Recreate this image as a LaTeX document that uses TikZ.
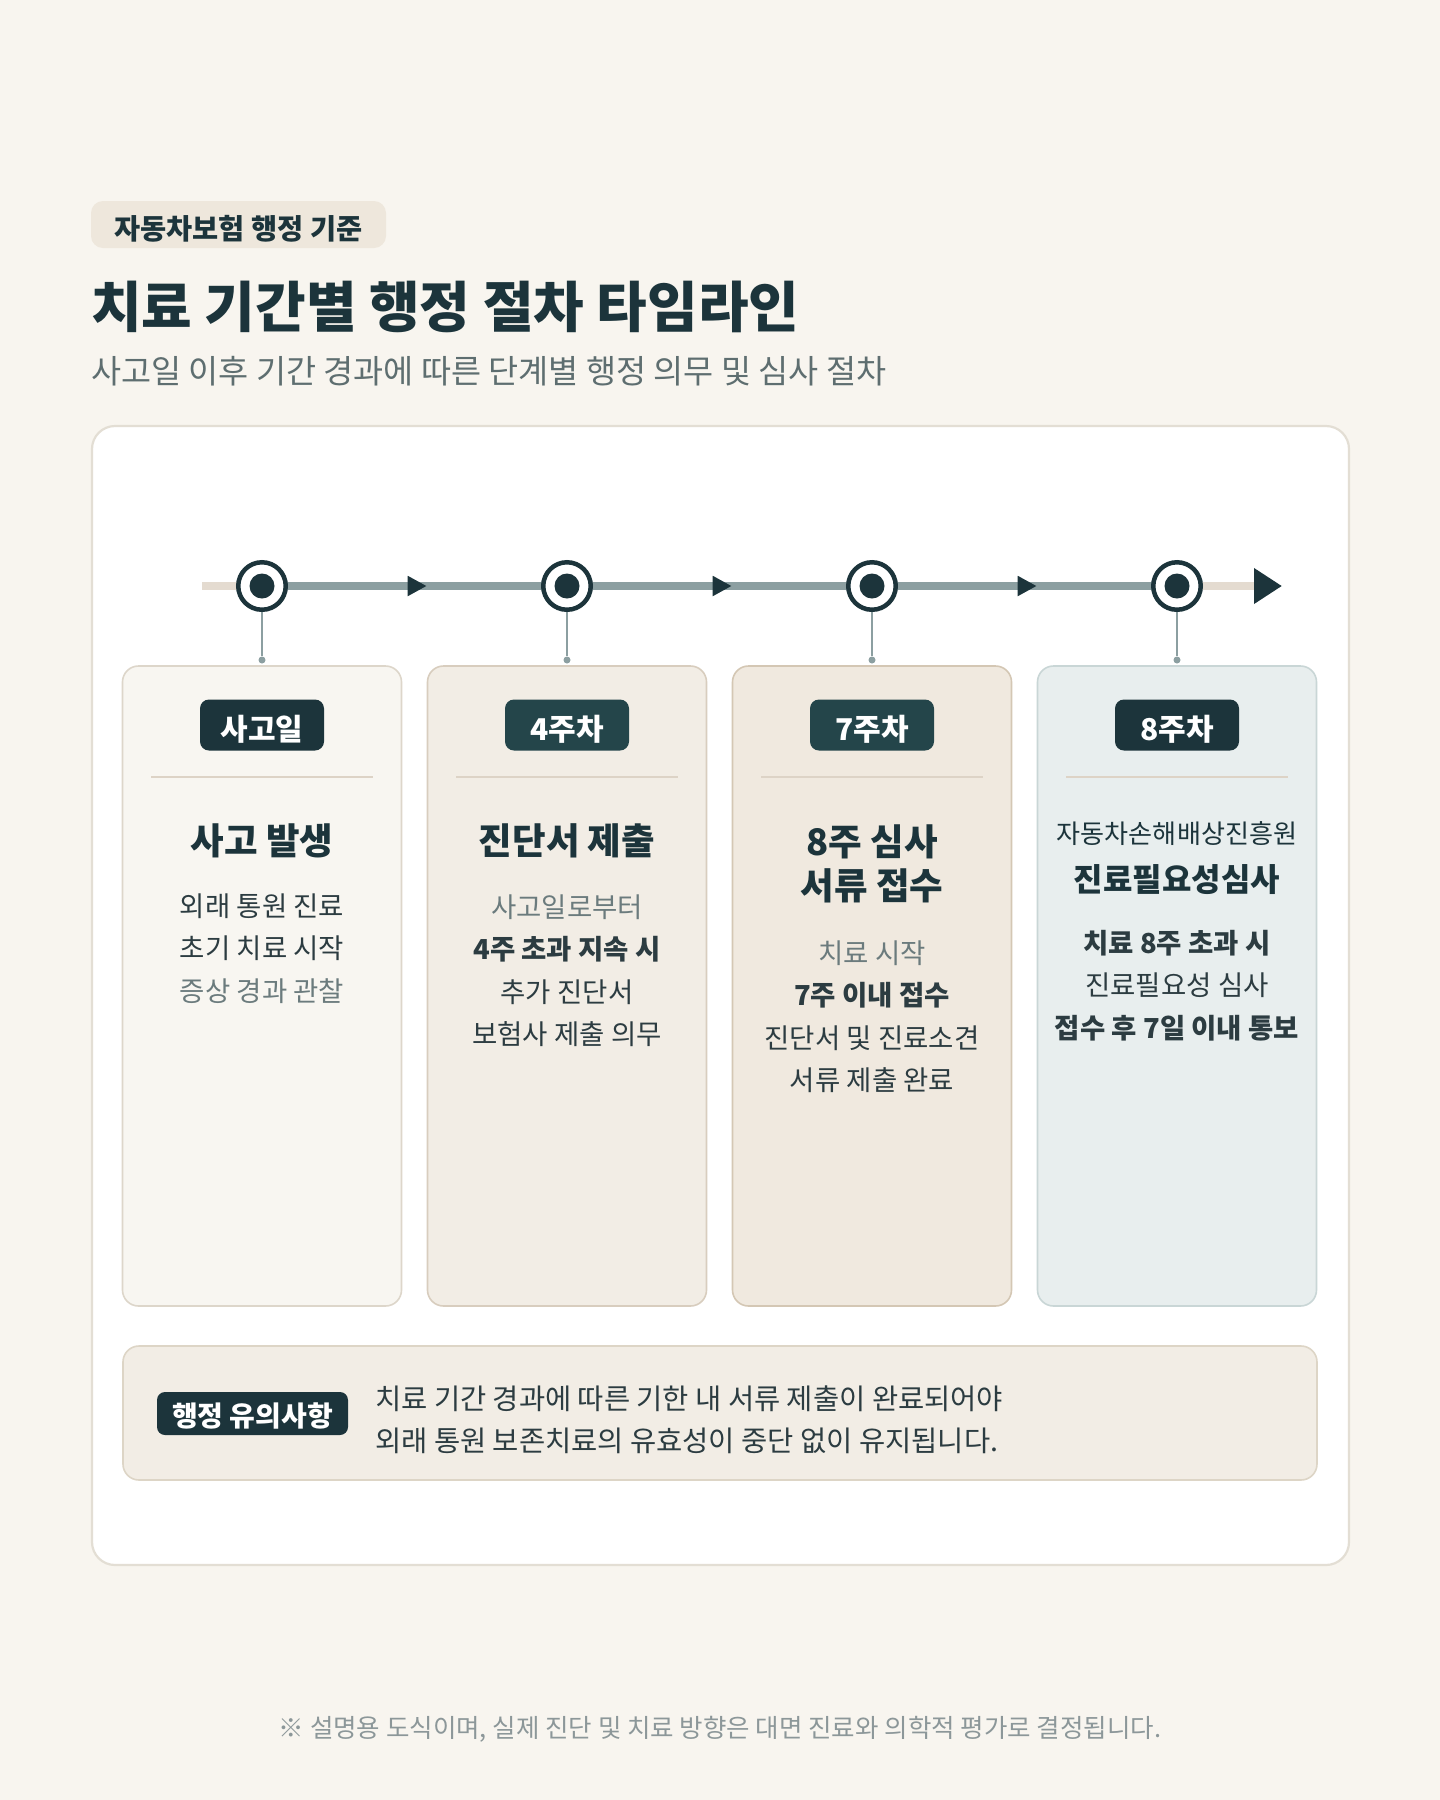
\documentclass[tikz,border=0pt]{standalone}
\usepackage{fontspec}
\setmainfont{Noto Sans CJK KR}
\usetikzlibrary{arrows.meta,decorations.markings}

\definecolor{paper}{HTML}{F8F5EF}
\definecolor{tagfill}{HTML}{EEE7DC}
\definecolor{ink}{HTML}{1C343B}
\definecolor{inkteal}{HTML}{24454A}
\definecolor{body}{HTML}{2C3C41}
\definecolor{mute}{HTML}{5E6E70}
\definecolor{soft}{HTML}{6B7B7D}
\definecolor{faint}{HTML}{8C9799}
\definecolor{panelline}{HTML}{E3DED4}
\definecolor{tan}{HTML}{E4DBD0}
\definecolor{steel}{HTML}{8C9FA1}
\definecolor{rulec}{HTML}{DDD3C6}
\definecolor{fillA}{HTML}{F8F6F1}\definecolor{lineA}{HTML}{DDD6CA}
\definecolor{fillB}{HTML}{F2EDE5}\definecolor{lineB}{HTML}{D8CDBE}
\definecolor{fillC}{HTML}{F0E9DF}\definecolor{lineC}{HTML}{D4C7B4}
\definecolor{fillD}{HTML}{E8EEEE}\definecolor{lineD}{HTML}{C9D6D6}
\definecolor{notefill}{HTML}{F2EDE5}\definecolor{noteline}{HTML}{DDD5C6}

\pgfdeclarelayer{back}
\pgfdeclarelayer{lines}
\pgfsetlayers{back,lines,main}

\tikzset{
  track/.style={line width=8pt},
  midtip/.style={postaction={decorate},
    decoration={markings,mark=at position 0.54 with {\arrow{Triangle[length=19pt,width=19pt,color=ink]}}}},
  ring/.style={circle,draw=ink,line width=4.5pt,fill=white,minimum size=47.5pt,inner sep=0pt},
  core/.style={circle,fill=ink,minimum size=25pt,inner sep=0pt},
  pin/.style={circle,fill=steel,minimum size=7pt,inner sep=0pt},
  stem/.style={steel,line width=2pt},
  card/.style={rectangle,rounded corners=16pt,line width=1.6pt,minimum width=279pt,minimum height=640pt},
  pill/.style={rectangle,rounded corners=9pt,text=white,inner sep=0pt,text height=31.6pt,text depth=0pt,
    font=\bfseries\fontsize{30}{32}\selectfont,minimum width=124pt,minimum height=51pt},
  rulel/.style={rulec,line width=2pt},
  heading/.style={text=ink,align=center,inner sep=0pt,font=\bfseries\fontsize{36.5}{44}\selectfont},
  bodytext/.style={text=body,align=center,inner sep=0pt,font=\fontsize{27.5}{42.5}\selectfont}
}

\begin{document}
\begin{tikzpicture}[x=1pt,y=-1pt]
\begin{pgfonlayer}{back}
\fill[paper] (0,0) rectangle (1440,1800);
\node[draw=panelline,line width=2.2pt,fill=white,rounded corners=23pt,
  minimum width=1257pt,minimum height=1139pt] (panel) at (720.5,995.5) {};
\end{pgfonlayer}
\useasboundingbox (0,0) rectangle (1440,1800);

% header
\node[fill=tagfill,rounded corners=12pt,minimum width=295pt,minimum height=47pt,inner sep=0pt,
  text height=30.4pt,text depth=0pt,text=ink,font=\bfseries\fontsize{28.4}{30}\selectfont]
  (tag) at (238.5,224.5) {자동차보험 행정 기준};
\node[anchor=west,inner sep=0pt,text=ink,font=\bfseries\fontsize{55}{60}\selectfont]
  (title) at (91,307) {치료 기간별 행정 절차 타임라인};
\node[anchor=west,inner sep=0pt,text=mute,font=\fontsize{32.7}{36}\selectfont]
  (subtitle) at (91,371) {사고일 이후 기간 경과에 따른 단계별 행정 의무 및 심사 절차};

% timeline
\coordinate (tlstart) at (202,586);
\coordinate (tlend) at (1282,586);
\foreach \i/\x in {1/262,2/567,3/872,4/1177} {
  \node[ring] (ring\i) at (\x,586) {};
  \node[core] (core\i) at (ring\i) {};
  \node[pin] (pin\i) at (\x,660) {};
  \draw[stem] (ring\i) -- (pin\i);
}
\begin{pgfonlayer}{lines}
\draw[track,tan,-{Triangle[length=28pt,width=34pt,color=ink]}] (tlstart) -- (tlend);
\foreach \a/\b in {1/2,2/3,3/4}
  \draw[track,steel,midtip] (ring\a.center) -- (ring\b.center);
\end{pgfonlayer}

% cards
\foreach \i/\x/\fc/\dc/\pc/\tag in {1/262/fillA/lineA/ink/사고일,2/567/fillB/lineB/inkteal/4주차,
    3/872/fillC/lineC/inkteal/7주차,4/1177/fillD/lineD/ink/8주차} {
  \node[card,fill=\fc,draw=\dc] (card\i) at (\x,986) {};
  \node[pill,fill=\pc] (week\i) at (\x,725) {\tag};
  \draw[rulel] (\x-111,777) -- (\x+111,777);
}

\node[heading] (head1) at (262,841) {사고 발생};
\node[bodytext] (body1) at (262,948.5) {외래 통원 진료\\초기 치료 시작\\\textcolor{soft}{증상 경과 관찰}};

\node[heading] (head2) at (567,841) {진단서 제출};
\node[bodytext] (body2) at (567,970.5) {\textcolor{soft}{사고일로부터}\\\textbf{4주 초과 지속 시}\\추가 진단서\\보험사 제출 의무};

\node[heading] (head3) at (872,864) {8주 심사\\서류 접수};
\node[bodytext] (body3) at (872,1016.5) {\textcolor{soft}{치료 시작}\\\textbf{7주 이내 접수}\\진단서 및 진료소견\\서류 제출 완료};

\node[text=ink,inner sep=0pt,font=\fontsize{26.1}{28}\selectfont] (org4) at (1177,834) {자동차손해배상진흥원};
\node[heading,font=\bfseries\fontsize{32}{36}\selectfont] (head4) at (1177,880) {진료필요성심사};
\node[bodytext] (body4) at (1177,985.5) {\textbf{치료 8주 초과 시}\\진료필요성 심사\\\textbf{접수 후 7일 이내 통보}};

% note
\node[fill=notefill,draw=noteline,line width=1.6pt,rounded corners=16pt,
  minimum width=1194pt,minimum height=134pt] (note) at (720,1413) {};
\node[pill,fill=ink,minimum width=191pt,minimum height=43pt,rounded corners=8pt,text height=25.6pt,
  font=\bfseries\fontsize{28}{30}\selectfont] (notetag) at (252.5,1413.5) {행정 유의사항};
\node[bodytext,align=left,anchor=west,font=\fontsize{28.5}{42}\selectfont] (notetext) at (375,1420)
  {치료 기간 경과에 따른 기한 내 서류 제출이 완료되어야\\외래 통원 보존치료의 유효성이 중단 없이 유지됩니다.};

% footer
\node[text=faint,inner sep=0pt,font=\fontsize{25.5}{28}\selectfont] (foot) at (720,1729)
  {※ 설명용 도식이며, 실제 진단 및 치료 방향은 대면 진료와 의학적 평가로 결정됩니다.};
\end{tikzpicture}
\end{document}
